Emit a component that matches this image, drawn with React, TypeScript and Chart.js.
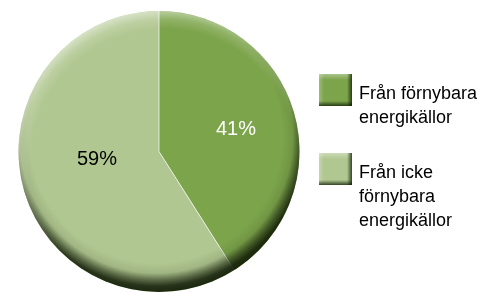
import React, { useEffect, useRef } from "react";
import { Chart, registerables } from "chart.js";

Chart.register(...registerables);

const categories = ["Från förnybara energikällor", "Från icke förnybara energikällor"];
const legendLines = [
  ["Från förnybara", "energikällor"],
  ["Från icke", "förnybara", "energikällor"],
];
const values = [41, 59];
const valueLabels = ["41%", "59%"];
const colors = ["#7ca44b", "#b1c791"];
const labelColors = ["#ffffff", "#000000"];
const labelRadius = [0.57, 0.46];
const labelShiftY = [0, -10];

const FONT = "'Liberation Sans', Arial, sans-serif";

const shadePlugin = {
  id: "shade",
  afterDatasetsDraw(chart: any) {
    const meta = chart.getDatasetMeta(0);
    const first = meta.data[0];
    const { x: cx, y: cy, outerRadius: R } = first.getProps(["x", "y", "outerRadius"], true);
    const ctx = chart.ctx as CanvasRenderingContext2D;
    ctx.save();
    ctx.beginPath();
    ctx.arc(cx, cy, R, 0, Math.PI * 2);
    ctx.clip();
    // separators
    ctx.strokeStyle = "rgba(255,255,255,0.7)";
    ctx.lineWidth = 1;
    meta.data.forEach((arc: any) => {
      const a = arc.startAngle;
      ctx.beginPath();
      ctx.moveTo(cx, cy);
      ctx.lineTo(cx + R * Math.cos(a), cy + R * Math.sin(a));
      ctx.stroke();
    });
    // dark rim bottom-right
    let g = ctx.createRadialGradient(cx - 3, cy - 15, R - 14, cx - 3, cy - 15, R + 15);
    g.addColorStop(0, "rgba(15,25,5,0)");
    g.addColorStop(0.35, "rgba(15,25,5,0.1)");
    g.addColorStop(0.6, "rgba(15,25,5,0.55)");
    g.addColorStop(0.8, "rgba(15,25,5,0.85)");
    g.addColorStop(1, "rgba(15,25,5,0.92)");
    ctx.fillStyle = g;
    ctx.fillRect(cx - R - 2, cy - R - 2, 2 * R + 4, 2 * R + 4);
    // highlight top-left
    g = ctx.createRadialGradient(cx + 5, cy + 12, R - 6, cx + 5, cy + 12, R + 13);
    g.addColorStop(0, "rgba(255,255,255,0)");
    g.addColorStop(0.5, "rgba(255,255,255,0.15)");
    g.addColorStop(1, "rgba(255,255,255,0.5)");
    ctx.fillStyle = g;
    ctx.fillRect(cx - R - 2, cy - R - 2, 2 * R + 4, 2 * R + 4);
    ctx.restore();

    // value labels
    ctx.save();
    ctx.font = `20px ${FONT}`;
    ctx.textAlign = "center";
    ctx.textBaseline = "middle";
    meta.data.forEach((arc: any, i: number) => {
      const mid = (arc.startAngle + arc.endAngle) / 2;
      const r = R * labelRadius[i];
      ctx.fillStyle = labelColors[i];
      ctx.fillText(valueLabels[i], cx + r * Math.cos(mid), cy + r * Math.sin(mid) + labelShiftY[i]);
    });
    ctx.restore();
  },
};

const legendPlugin = {
  id: "customLegend",
  afterDraw(chart: any) {
    const ctx = chart.ctx as CanvasRenderingContext2D;
    const area = chart.chartArea;
    const x0 = area.right + 19;
    let y = area.top + 63;
    const bw = 33;
    const bh = 32;
    const lh = 24;
    ctx.save();
    legendLines.forEach((lines, i) => {
      ctx.fillStyle = colors[i];
      ctx.fillRect(x0, y, bw, bh);
      let g = ctx.createLinearGradient(x0, y, x0, y + 6);
      g.addColorStop(0, "rgba(255,255,255,0.35)");
      g.addColorStop(1, "rgba(255,255,255,0)");
      ctx.fillStyle = g;
      ctx.fillRect(x0, y, bw, 6);
      g = ctx.createLinearGradient(x0, y, x0 + 5, y);
      g.addColorStop(0, "rgba(255,255,255,0.25)");
      g.addColorStop(1, "rgba(255,255,255,0)");
      ctx.fillStyle = g;
      ctx.fillRect(x0, y, 5, bh);
      g = ctx.createLinearGradient(x0 + bw - 5, y, x0 + bw, y);
      g.addColorStop(0, "rgba(10,25,0,0)");
      g.addColorStop(1, "rgba(10,25,0,0.75)");
      ctx.fillStyle = g;
      ctx.fillRect(x0 + bw - 5, y, 5, bh);
      g = ctx.createLinearGradient(x0, y + bh - 5, x0, y + bh);
      g.addColorStop(0, "rgba(10,25,0,0)");
      g.addColorStop(1, "rgba(10,25,0,0.75)");
      ctx.fillStyle = g;
      ctx.fillRect(x0, y + bh - 5, bw, 5);
      ctx.fillStyle = "#000000";
      ctx.font = `18px ${FONT}`;
      ctx.textAlign = "left";
      ctx.textBaseline = "alphabetic";
      lines.forEach((ln, j) => {
        ctx.fillText(ln, x0 + bw + 7, y + 25 + j * lh);
      });
      y += lines.length * lh + 31;
    });
    ctx.restore();
  },
};

export default function App() {
  const ref = useRef<HTMLCanvasElement | null>(null);
  useEffect(() => {
    if (!ref.current) return;
    const chart = new Chart(ref.current, {
      type: "pie",
      data: {
        labels: categories,
        datasets: [
          {
            data: values,
            backgroundColor: colors,
            borderWidth: 0,
          },
        ],
      },
      options: {
        animation: false,
        responsive: false,
        devicePixelRatio: 1,
        layout: { padding: { left: 18, right: 183, top: 11, bottom: 1 } },
        plugins: {
          legend: { display: false },
          tooltip: { enabled: false },
        },
      },
      plugins: [shadePlugin, legendPlugin],
    });
    return () => chart.destroy();
  }, []);
  return (
    <div style={{ position: "fixed", left: 0, top: 0, width: 483, height: 293, background: "#ffffff" }}>
      <canvas ref={ref} width={483} height={293} style={{ display: "block" }} />
    </div>
  );
}
